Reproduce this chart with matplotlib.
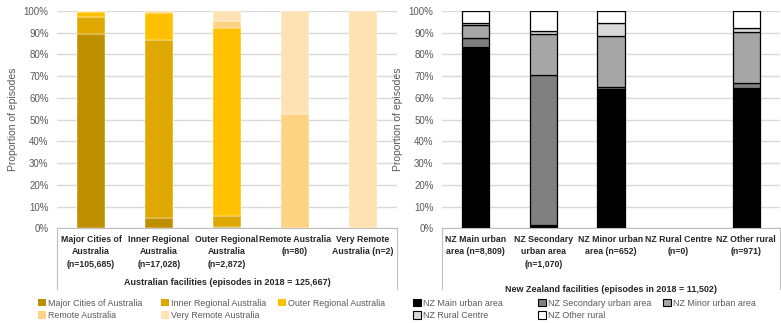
import matplotlib
matplotlib.use("Agg")
import matplotlib.pyplot as plt
import numpy as np
from matplotlib.patches import Patch
from matplotlib.lines import Line2D

plt.rcParams["font.family"] = ["Liberation Sans", "DejaVu Sans"]

# Australian facilities, % of episodes by facility remoteness (bars) and patient remoteness (stack)
au_categories = [
    "Major Cities of\nAustralia\n(n=105,685)",
    "Inner Regional\nAustralia\n(n=17,028)",
    "Outer Regional\nAustralia\n(n=2,872)",
    "Remote Australia\n(n=80)",
    "Very Remote\nAustralia (n=2)",
]
au_series = [
    "Major Cities of Australia",
    "Inner Regional Australia",
    "Outer Regional Australia",
    "Remote Australia",
    "Very Remote Australia",
]
au_major = [89.6, 4.7, 0.8, 0.0, 0.0]
au_inner = [7.7, 82.0, 5.0, 0.0, 0.0]
au_outer = [2.4, 12.6, 86.5, 0.0, 0.0]
au_remote = [0.3, 0.6, 3.2, 52.5, 0.0]
au_very_remote = [0.0, 0.1, 4.5, 47.5, 100.0]
au_colors = ["#BF8F00", "#DFA800", "#FFC000", "#FFD384", "#FFE2B4"]

# New Zealand facilities
nz_categories = [
    "NZ Main urban\narea (n=8,809)",
    "NZ Secondary\nurban area\n(n=1,070)",
    "NZ Minor urban\narea (n=652)",
    "NZ Rural Centre\n(n=0)",
    "NZ Other rural\n(n=971)",
]
nz_series = [
    "NZ Main urban area",
    "NZ Secondary urban area",
    "NZ Minor urban area",
    "NZ Rural Centre",
    "NZ Other rural",
]
nz_main = [83.6, 1.3, 64.1, 0.0, 64.7]
nz_secondary = [3.8, 69.2, 1.0, 0.0, 2.0]
nz_minor = [6.3, 18.8, 23.4, 0.0, 23.6]
nz_rural = [0.8, 1.5, 5.9, 0.0, 2.0]
nz_other = [5.5, 9.2, 5.6, 0.0, 7.7]
nz_colors = ["#000000", "#808080", "#A6A6A6", "#D9D9D9", "#FFFFFF"]

au_title = "Australian facilities (episodes in 2018 = 125,667)"
nz_title = "New Zealand facilities (episodes in 2018 = 11,502)"

GREY = "#595959"
W, H = 781, 323

fig = plt.figure(figsize=(W / 100, H / 100), dpi=100)
ax_au = fig.add_axes([57 / W, 1 - 228.3 / H, 340 / W, 217.3 / H])
ax_nz = fig.add_axes([442 / W, 1 - 228.3 / H, 338 / W, 217.3 / H])


def draw_panel(ax, categories, stacks, colors, edge, group_title, title_y):
    x = np.arange(len(categories))
    bottom = np.zeros(len(categories))
    for vals, color in zip(stacks, colors):
        vals = np.array(vals) / 100.0
        if edge:
            lw = np.where(vals > 0, 0.9, 0.0)
            ax.bar(x, vals, 0.4, bottom=bottom, color=color,
                   edgecolor="black", linewidth=lw, zorder=3)
        else:
            ax.bar(x, vals, 0.4, bottom=bottom, color=color,
                   edgecolor="white", linewidth=0.3, zorder=3)
        bottom += vals
    ax.set_xlim(-0.5, len(categories) - 0.5)
    ax.set_ylim(0, 1)
    ticks = np.arange(0, 1.01, 0.1)
    ax.set_yticks(ticks)
    ax.set_yticklabels([f"{int(round(v * 100))}%" for v in ticks])
    ax.yaxis.grid(True, color="#D9D9D9", linewidth=1.0, zorder=0)
    for side in ("top", "right", "left"):
        ax.spines[side].set_visible(False)
    ax.spines["bottom"].set_color("#BFBFBF")
    ax.spines["bottom"].set_zorder(4)
    ax.tick_params(axis="y", length=0, labelsize=7, labelcolor=GREY, pad=6)
    ax.tick_params(axis="x", length=0, pad=4.5)
    ax.set_xticks(x)
    ax.set_xticklabels(categories, fontsize=6.3, fontweight="bold", color="#262626",
                       linespacing=1.5)
    ax.set_ylabel("Proportion of episodes", fontsize=7.5, color=GREY, labelpad=4)
    # multi-level category axis box edges
    for xv in (0.0, 1.0):
        ax.add_line(Line2D([xv, xv], [0, -0.28], transform=ax.transAxes,
                           color="#BFBFBF", linewidth=0.8, clip_on=False))
    ax.text(0.5, title_y, group_title, transform=ax.transAxes, ha="center",
            va="center", fontsize=6.5, fontweight="bold", color="#262626")


draw_panel(ax_au, au_categories,
           [au_major, au_inner, au_outer, au_remote, au_very_remote],
           au_colors, False, au_title, -0.248)
draw_panel(ax_nz, nz_categories,
           [nz_main, nz_secondary, nz_minor, nz_rural, nz_other],
           nz_colors, True, nz_title, -0.282)

# legends: one small legend per column so the columns sit where the reference has them
leg_kw = dict(frameon=False, fontsize=6.4, labelcolor=GREY, handlelength=0.85,
              handleheight=0.85, handletextpad=0.3, labelspacing=0.35,
              borderaxespad=0, borderpad=0, loc="upper left")
au_cols = [(38, [0, 3]), (161, [1, 4]), (278, [2])]
for xpix, idx in au_cols:
    handles = [Patch(facecolor=au_colors[i], label=au_series[i]) for i in idx]
    fig.legend(handles=handles, bbox_to_anchor=(xpix / W, 1 - 299 / H), **leg_kw)
nz_cols = [(413, [0, 3]), (538, [1, 4]), (663, [2])]
for xpix, idx in nz_cols:
    handles = [Patch(facecolor=nz_colors[i], edgecolor="black", linewidth=0.8,
                     label=nz_series[i]) for i in idx]
    fig.legend(handles=handles, bbox_to_anchor=(xpix / W, 1 - 299 / H), **leg_kw)

fig.savefig("out.png", dpi=100)
